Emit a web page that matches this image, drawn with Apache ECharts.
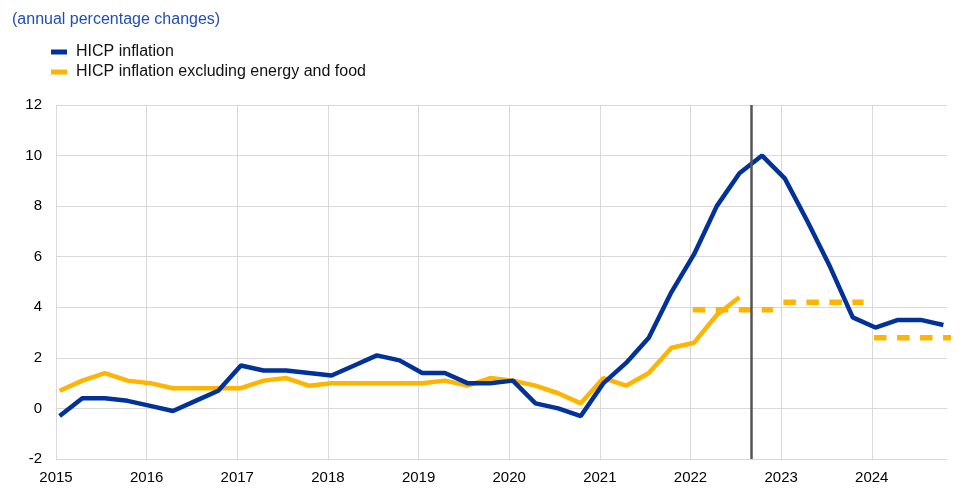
<!DOCTYPE html>
<html>
<head>
<meta charset="utf-8">
<script src="https://cdn.jsdelivr.net/npm/echarts@6/dist/echarts.min.js"></script>
<style>
  html, body { margin: 0; padding: 0; background: #fff; }
  #chart { width: 970px; height: 503px; }
</style>
</head>
<body>
<div id="chart"></div>
<script>
// quarterly observations, 2015 Q1 onwards
var startYear = 2015;
var hicp = [
  -0.3, 0.4, 0.4, 0.3,
  0.1, -0.1, 0.3, 0.7,
  1.7, 1.5, 1.5, 1.4,
  1.3, 1.7, 2.1, 1.9,
  1.4, 1.4, 1.0, 1.0,
  1.1, 0.2, 0.0, -0.3,
  1.0, 1.8, 2.8, 4.6,
  6.1, 8.0, 9.3, 10.0,
  9.1, 7.4, 5.6, 3.6,
  3.2, 3.5, 3.5, 3.3
];
var hicpCore = [
  0.7, 1.1, 1.4, 1.1,
  1.0, 0.8, 0.8, 0.8,
  0.8, 1.1, 1.2, 0.9,
  1.0, 1.0, 1.0, 1.0,
  1.0, 1.1, 0.9, 1.2,
  1.1, 0.9, 0.6, 0.2,
  1.2, 0.9, 1.4, 2.4,
  2.6, 3.7, 4.4
];
// annual averages for core inflation (dashed)
var coreYears = [2022, 2023, 2024];
var coreAnnual = [3.9, 4.2, 2.8];
var cutoff = 2022.67;
var yTicks = { min: -2, max: 12, interval: 2 };
var xMax = 2024.83;

var BLUE = '#003299';
var YELLOW = '#ffb400';
var GRID = '#d9d9d9';
var qOffset = 0.04;

function toPoints(arr) {
  return arr.map(function (v, i) { return [startYear + i / 4 + qOffset, v]; });
}

var series = [{
  name: 'HICP inflation',
  type: 'line',
  data: toPoints(hicp),
  showSymbol: false,
  lineStyle: { color: BLUE, width: 4.5 },
  itemStyle: { color: BLUE },
  z: 3,
  markLine: {
    silent: true,
    symbol: 'none',
    label: { show: false },
    lineStyle: { color: '#555555', width: 2.5, type: 'solid' },
    data: [{ xAxis: cutoff }]
  }
}, {
  name: 'HICP inflation excluding energy and food',
  type: 'line',
  data: toPoints(hicpCore),
  showSymbol: false,
  lineStyle: { color: YELLOW, width: 4.5 },
  itemStyle: { color: YELLOW },
  z: 2
}];

coreYears.forEach(function (yr, i) {
  series.push({
    name: 'core-' + yr,
    type: 'line',
    data: [[yr + 0.025, coreAnnual[i]], [yr + 0.91, coreAnnual[i]]],
    showSymbol: false,
    clip: false,
    lineStyle: { color: YELLOW, width: 5.5, type: [12.5, 10.5], cap: 'butt' },
    z: 2
  });
});

// one vertical grid line per year, none on the right edge
var xGridColors = [];
for (var y = startYear; y <= Math.floor(xMax); y++) xGridColors.push(GRID);
xGridColors.push('rgba(0,0,0,0)');

var chart = echarts.init(document.getElementById('chart'));
chart.setOption({
  animation: false,
  textStyle: { fontFamily: 'Liberation Sans, Arial, sans-serif' },
  title: {
    text: '(annual percentage changes)',
    left: 7,
    top: 7,
    textStyle: { color: '#1f4fb0', fontSize: 16, fontWeight: 'normal' }
  },
  legend: {
    orient: 'vertical',
    left: 46,
    top: 39,
    itemGap: 4,
    icon: 'rect',
    itemWidth: 16,
    itemHeight: 5,
    textStyle: { color: '#111', fontSize: 16, padding: [0, 0, 0, 4] },
    data: ['HICP inflation', 'HICP inflation excluding energy and food']
  },
  grid: { left: 56, right: 23, top: 105, bottom: 44 },
  xAxis: {
    type: 'value',
    min: startYear,
    max: xMax,
    interval: 1,
    axisLine: { show: true, lineStyle: { color: GRID, width: 1 } },
    axisTick: { show: false },
    splitLine: { show: true, lineStyle: { color: xGridColors, width: 1 } },
    axisLabel: {
      color: '#000',
      fontSize: 15,
      margin: 11,
      showMaxLabel: false,
      formatter: function (v) { return Math.abs(v - Math.round(v)) < 1e-6 ? String(Math.round(v)) : ''; }
    }
  },
  yAxis: {
    type: 'value',
    min: yTicks.min,
    max: yTicks.max,
    interval: yTicks.interval,
    axisLine: { show: false },
    axisTick: { show: false },
    splitLine: { show: true, lineStyle: { color: GRID, width: 1 } },
    axisLabel: { color: '#000', fontSize: 15, margin: 14 }
  },
  series: series
});
</script>
</body>
</html>
